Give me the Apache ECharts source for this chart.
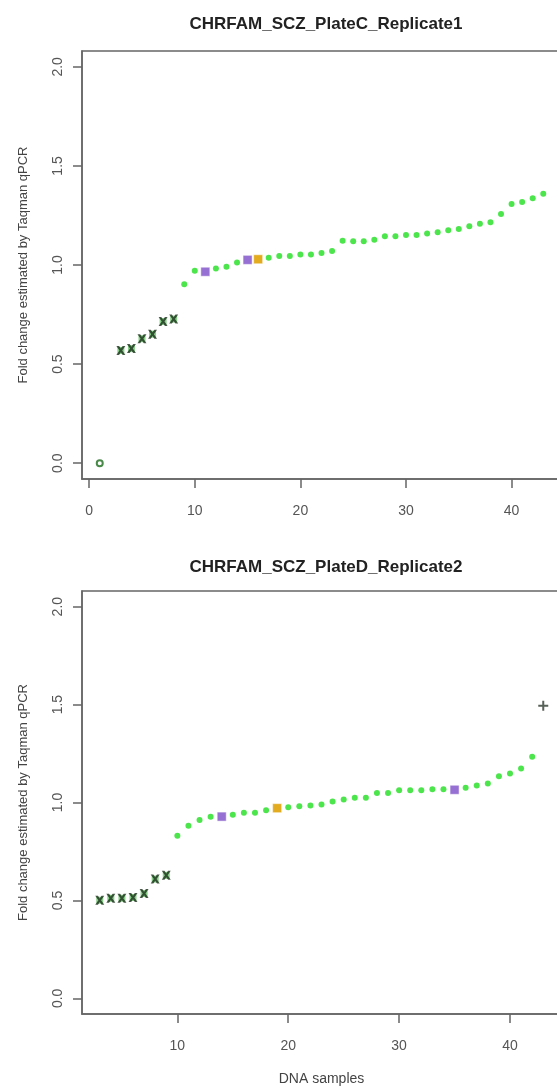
<!DOCTYPE html>
<html>
<head>
<meta charset="utf-8">
<script src="https://cdn.jsdelivr.net/npm/echarts@6/dist/echarts.min.js"></script>
<style>
  html, body { margin: 0; padding: 0; background: #fff; overflow: hidden; }
  /* the original figure is cut off on the right, so the chart is a bit wider than the window */
  #chart { width: 566px; height: 1088px; }
</style>
</head>
<body>
<div id="chart"></div>
<script>
// tick labels
var yTicks = [0, 0.5, 1, 1.5, 2]
var xTicksC = [0, 10, 20, 30, 40]
var xTicksD = [10, 20, 30, 40]

// Plate C, replicate 1
var plateC_zeroX = [1]
var plateC_zeroY = [0.0]
var plateC_lowX = [3, 4, 5, 6, 7, 8]
var plateC_lowY = [0.569, 0.578, 0.628, 0.651, 0.715, 0.727]
var plateC_okX = [9, 10, 12, 13, 14, 17, 18, 19, 20, 21, 22, 23, 24, 25, 26, 27, 28, 29, 30, 31, 32, 33, 34, 35, 36, 37, 38, 39, 40, 41, 42, 43]
var plateC_okY = [0.903, 0.971, 0.982, 0.991, 1.013, 1.036, 1.045, 1.046, 1.053, 1.053, 1.060, 1.071, 1.122, 1.120, 1.120, 1.128, 1.145, 1.145, 1.152, 1.152, 1.159, 1.165, 1.175, 1.182, 1.196, 1.208, 1.216, 1.258, 1.308, 1.318, 1.337, 1.360]
var plateC_purpleX = [11, 15]
var plateC_purpleY = [0.966, 1.026]
var plateC_orangeX = [16]
var plateC_orangeY = [1.029]

// Plate D, replicate 2
var plateD_lowX = [3, 4, 5, 6, 7, 8, 9]
var plateD_lowY = [0.501, 0.511, 0.511, 0.515, 0.535, 0.609, 0.628]
var plateD_okX = [10, 11, 12, 13, 15, 16, 17, 18, 20, 21, 22, 23, 24, 25, 26, 27, 28, 29, 30, 31, 32, 33, 34, 36, 37, 38, 39, 40, 41, 42]
var plateD_okY = [0.830, 0.881, 0.911, 0.927, 0.937, 0.948, 0.948, 0.960, 0.976, 0.981, 0.985, 0.990, 1.005, 1.015, 1.024, 1.024, 1.048, 1.048, 1.062, 1.062, 1.062, 1.068, 1.068, 1.075, 1.087, 1.097, 1.134, 1.148, 1.173, 1.234]
var plateD_purpleX = [14, 35]
var plateD_purpleY = [0.928, 1.065]
var plateD_orangeX = [19]
var plateD_orangeY = [0.971]
var plateD_highX = [43]
var plateD_highY = [1.494]

var FONT = '"Liberation Sans", Arial, sans-serif'
var X_MARK = 'path://M0,0H3L5,3L7,0H10L6.5,5L10,10H7L5,7L3,10H0L3.5,5Z'
var PLUS_MARK = 'path://M4,0H6V4H10V6H6V10H4V6H0V4H4Z'

function pairs(xs, ys) {
  return xs.map(function (x, i) { return [x, ys[i]] })
}

function xAxisFor(idx, min, max, ticks, name) {
  return {
    type: 'value', gridIndex: idx, min: min, max: max,
    name: name || '', nameLocation: 'middle', nameGap: 58,
    nameTextStyle: { color: '#444', fontSize: 14, fontFamily: FONT },
    splitLine: { show: false },
    axisLine: { show: true, onZero: false, lineStyle: { color: '#666', width: 1.5 } },
    axisTick: { show: true, length: 9, customValues: ticks, lineStyle: { color: '#666', width: 1.5 } },
    axisLabel: { customValues: ticks, margin: 25, color: '#555', fontSize: 14, fontFamily: FONT }
  }
}

function yAxisFor(idx) {
  return {
    type: 'value', gridIndex: idx, min: -0.08, max: 2.08,
    name: 'Fold change estimated by Taqman qPCR', nameLocation: 'middle', nameGap: 52, nameRotate: 90,
    nameTextStyle: { color: '#444', fontSize: 13, fontFamily: FONT },
    splitLine: { show: false },
    axisLine: { show: true, onZero: false, lineStyle: { color: '#666', width: 1.5 } },
    axisTick: { show: true, length: 9, customValues: yTicks, lineStyle: { color: '#666', width: 1.5 } },
    axisLabel: {
      customValues: yTicks, rotate: 90, margin: 17, color: '#555', fontSize: 14, fontFamily: FONT,
      formatter: function (v) { return v.toFixed(1) }
    }
  }
}

function green(idx, data) {
  return { type: 'scatter', xAxisIndex: idx, yAxisIndex: idx, data: data, symbol: 'circle', symbolSize: 6,
    itemStyle: { color: '#1fe01f' }, z: 2, silent: true }
}
function lowMarks(idx, data) {
  return [
    { type: 'scatter', xAxisIndex: idx, yAxisIndex: idx, data: data, symbol: 'rect', symbolSize: 7,
      itemStyle: { color: '#6cc46c' }, z: 2, silent: true },
    { type: 'scatter', xAxisIndex: idx, yAxisIndex: idx, data: data, symbol: X_MARK, symbolSize: 9,
      itemStyle: { color: '#1c301c' }, z: 3, silent: true }
  ]
}
function square(idx, data, col) {
  return { type: 'scatter', xAxisIndex: idx, yAxisIndex: idx, data: data, symbol: 'rect', symbolSize: 9,
    itemStyle: { color: col, borderColor: '#ffffff', borderWidth: 0.5, opacity: 0.95 }, z: 3, silent: true }
}

var series = []
series.push(green(0, pairs(plateC_okX, plateC_okY)))
series = series.concat(lowMarks(0, pairs(plateC_lowX, plateC_lowY)))
series.push(square(0, pairs(plateC_purpleX, plateC_purpleY), '#9068d0'))
series.push(square(0, pairs(plateC_orangeX, plateC_orangeY), '#e2a814'))
series.push({ type: 'scatter', xAxisIndex: 0, yAxisIndex: 0, data: pairs(plateC_zeroX, plateC_zeroY),
  symbol: 'emptyCircle', symbolSize: 6, itemStyle: { color: '#1b6b1b', borderWidth: 2 }, z: 3, silent: true })

series.push(green(1, pairs(plateD_okX, plateD_okY)))
series = series.concat(lowMarks(1, pairs(plateD_lowX, plateD_lowY)))
series.push(square(1, pairs(plateD_purpleX, plateD_purpleY), '#9068d0'))
series.push(square(1, pairs(plateD_orangeX, plateD_orangeY), '#e2a814'))
series.push({ type: 'scatter', xAxisIndex: 1, yAxisIndex: 1, data: pairs(plateD_highX, plateD_highY),
  symbol: PLUS_MARK, symbolSize: 10, itemStyle: { color: '#2e3a2e' }, z: 3, silent: true })

var chart = echarts.init(document.getElementById('chart'), null, { renderer: 'canvas' })
chart.setOption({
  animation: false,
  backgroundColor: '#fff',
  title: [
    { text: 'CHRFAM_SCZ_PlateC_Replicate1', left: 321, top: 11, textAlign: 'center',
      textStyle: { color: '#222', fontSize: 17, fontWeight: 'bold', fontFamily: FONT } },
    { text: 'CHRFAM_SCZ_PlateD_Replicate2', left: 321, top: 554, textAlign: 'center',
      textStyle: { color: '#222', fontSize: 17, fontWeight: 'bold', fontFamily: FONT } }
  ],
  grid: [
    { left: 82, top: 51, width: 479, height: 428, show: true, borderColor: '#666', borderWidth: 1.5 },
    { left: 82, top: 591, width: 479, height: 423, show: true, borderColor: '#666', borderWidth: 1.5 }
  ],
  xAxis: [
    xAxisFor(0, -0.68, 44.68, xTicksC),
    xAxisFor(1, 1.4, 44.6, xTicksD, 'DNA samples')
  ],
  yAxis: [yAxisFor(0), yAxisFor(1)],
  series: series
})
</script>
</body>
</html>
